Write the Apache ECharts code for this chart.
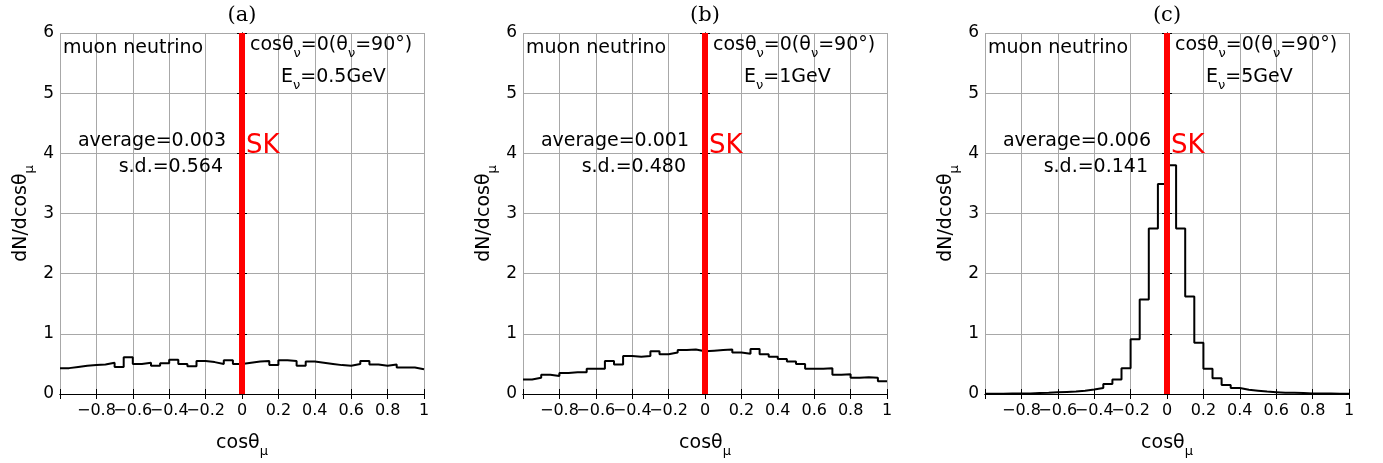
<!DOCTYPE html>
<html><head><meta charset="utf-8">
<script src="https://cdn.jsdelivr.net/npm/echarts@6/dist/echarts.min.js"></script>
<style>html,body{margin:0;padding:0;background:#fff}#c{width:1383px;height:463px}</style>
</head><body><div id="c"></div>
<script>
// ---- data ----
const panelTitles = ['(a)', '(b)', '(c)'];
const energies = ['0.5GeV', '1GeV', '5GeV'];
const averages = ['0.003', '0.001', '0.006'];
const sds = ['0.564', '0.480', '0.141'];
const binLow = -1, binWidth = 0.05;
const histA = [0.43,0.45,0.47,0.48,0.49,0.52,0.45,0.61,0.50,0.52,0.47,0.51,0.57,0.50,0.46,0.55,0.53,0.50,0.56,0.50,
               0.52,0.54,0.55,0.48,0.56,0.55,0.47,0.54,0.52,0.50,0.48,0.47,0.50,0.55,0.49,0.47,0.49,0.44,0.44,0.41];
const histB = [0.24,0.27,0.32,0.30,0.35,0.36,0.36,0.42,0.42,0.55,0.49,0.63,0.62,0.63,0.71,0.66,0.69,0.73,0.74,0.71,
               0.72,0.73,0.74,0.69,0.67,0.75,0.66,0.62,0.58,0.54,0.50,0.42,0.42,0.43,0.32,0.33,0.27,0.28,0.27,0.21];
const histC = [0.005,0.005,0.01,0.01,0.01,0.015,0.02,0.03,0.035,0.04,0.055,0.075,0.10,0.165,0.24,0.43,0.91,1.57,2.75,3.49,
               3.80,2.75,1.62,0.85,0.42,0.26,0.15,0.10,0.07,0.055,0.04,0.03,0.02,0.02,0.015,0.01,0.01,0.01,0.005,0.005];
const hists = [histA, histB, histC];
const skX = 0;            // SK direction cos value
const yRange = [0, 6];

// ---- layout ----
const FONT = 'DejaVu Sans';
const gridLefts = [60, 523, 985];
const gridTop = 33, gridW = 364, gridH = 365;

const richSub = {
  m: {fontSize: 19, fontFamily: FONT, color: '#000', lineHeight: 24, verticalAlign: 'top'},
  s: {fontSize: 13, fontFamily: FONT, color: '#000', lineHeight: 11, verticalAlign: 'bottom'}
};

function fmtX(v) {
  if (v <= -0.999) return '';
  const r = Math.round(v * 10) / 10;
  return String(r).replace('-', '\u2212');
}

const grids = [], xAxes = [], yAxes = [], series = [], graphics = [];
for (let i = 0; i < 3; i++) {
  grids.push({left: gridLefts[i], top: gridTop, width: gridW, height: gridH, show: false});
}
for (let i = 0; i < 3; i++) {
  xAxes.push({
    gridIndex: i, type: 'value', min: -1, max: 1, interval: 0.2,
    axisLine: {lineStyle: {color: '#000', width: 1}},
    axisTick: {inside: true, length: 5, lineStyle: {color: '#000'}},
    axisLabel: {fontSize: 16, color: '#000', fontFamily: FONT, margin: 9, formatter: fmtX, showMinLabel: true},
    splitLine: {show: true, lineStyle: {color: '#a8a8a8', width: 1}},
    name: '{m|cos\u03b8}{s|\u03bc}', nameLocation: 'middle', nameGap: 40,
    nameTextStyle: {rich: richSub}
  });
}
for (let i = 0; i < 3; i++) {
  xAxes.push({
    gridIndex: i, type: 'value', min: -1, max: 1, interval: 0.2, position: 'top',
    axisLine: {show: true, lineStyle: {color: '#000', width: 1}},
    axisTick: {inside: true, length: 5, lineStyle: {color: '#000'}},
    axisLabel: {show: false}, splitLine: {show: false}
  });
}
for (let i = 0; i < 3; i++) {
  yAxes.push({
    gridIndex: i, type: 'value', min: yRange[0], max: yRange[1], interval: 1,
    axisLine: {show: true, lineStyle: {color: '#000', width: 1}},
    axisTick: {show: true, inside: true, length: 5, lineStyle: {color: '#000'}},
    axisLabel: {fontSize: 17, color: '#000', fontFamily: FONT, margin: 6},
    splitLine: {show: true, lineStyle: {color: '#a8a8a8', width: 1}},
    name: '{m|dN/dcos\u03b8}{s|\u03bc}', nameLocation: 'middle', nameGap: 24,
    nameTextStyle: {rich: richSub}
  });
}
for (let i = 0; i < 3; i++) {
  yAxes.push({
    gridIndex: i, type: 'value', min: yRange[0], max: yRange[1], interval: 1, position: 'right',
    axisLine: {show: true, lineStyle: {color: '#000', width: 1}},
    axisTick: {show: true, inside: true, length: 5, lineStyle: {color: '#000'}},
    axisLabel: {show: false}, splitLine: {show: false}
  });
}
for (let i = 0; i < 3; i++) {
  const h = hists[i];
  const pts = h.map((v, k) => [binLow + k * binWidth, v]);
  pts.push([binLow + h.length * binWidth, h[h.length - 1]]);
  series.push({
    type: 'line', xAxisIndex: i, yAxisIndex: i, step: 'end', symbol: 'none',
    data: pts, lineStyle: {color: '#000', width: 2}, z: 3, silent: true
  });
  series.push({
    type: 'line', xAxisIndex: i, yAxisIndex: i, symbol: 'none',
    data: [[skX, yRange[0]], [skX, yRange[1]]],
    lineStyle: {color: '#ff0000', width: 6, cap: 'butt'}, z: 5, silent: true
  });
}
const rich19 = {
  m: {fontSize: 19, fontFamily: FONT, color: '#000', lineHeight: 24, verticalAlign: 'top'},
  s: {fontSize: 13, fontFamily: FONT, color: '#000', lineHeight: 11, verticalAlign: 'bottom'}
};
for (let i = 0; i < 3; i++) {
  const L = gridLefts[i], T = gridTop;
  graphics.push({type: 'text', x: L + gridW / 2, y: 16, style: {text: panelTitles[i], font: '21px "DejaVu Serif"', fill: '#000', align: 'center', verticalAlign: 'middle'}});
  graphics.push({type: 'text', x: L + 3, y: T + 15, z: 10, style: {text: 'muon neutrino', font: '19px "DejaVu Sans"', fill: '#000', align: 'left', verticalAlign: 'middle'}});
  graphics.push({type: 'text', x: L + 190, y: T + 15, z: 10, style: {text: '{m|cos\u03b8}{s|\u03bd}{m|=0(\u03b8}{s|\u03bd}{m|=90\u00b0)}', rich: rich19, align: 'left', verticalAlign: 'middle'}});
  graphics.push({type: 'text', x: L + 221, y: T + 47, z: 10, style: {text: '{m|E}{s|\u03bd}{m|=' + energies[i] + '}', rich: rich19, align: 'left', verticalAlign: 'middle'}});
  graphics.push({type: 'text', x: L + 166, y: T + 108, z: 10, style: {text: 'average=' + averages[i], font: '19px "DejaVu Sans"', fill: '#000', align: 'right', verticalAlign: 'middle'}});
  graphics.push({type: 'text', x: L + 163, y: T + 134, z: 10, style: {text: 's.d.=' + sds[i], font: '19px "DejaVu Sans"', fill: '#000', align: 'right', verticalAlign: 'middle'}});
  graphics.push({type: 'text', x: L + 186, y: T + 113, z: 10, style: {text: 'SK', font: '26px "DejaVu Sans"', fill: '#ff0000', align: 'left', verticalAlign: 'middle'}});
}

const chart = echarts.init(document.getElementById('c'), null, {renderer: 'canvas'});
chart.setOption({
  animation: false, backgroundColor: '#fff',
  grid: grids, xAxis: xAxes, yAxis: yAxes, series: series, graphic: graphics
});
</script></body></html>
